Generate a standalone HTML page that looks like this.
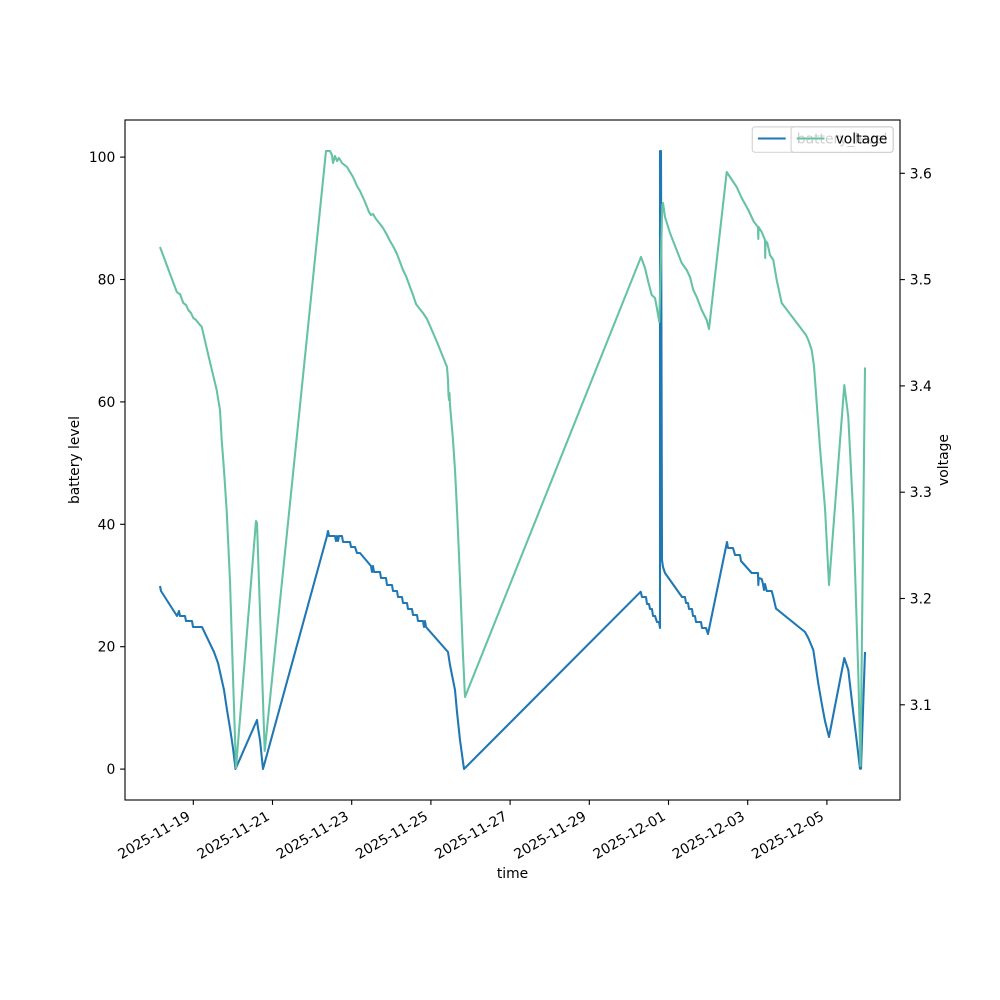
<!DOCTYPE html>
<html>
<head>
<meta charset="utf-8">
<style>
  html, body { margin: 0; padding: 0; background: #ffffff; }
  svg { display: block; }
  text { font-family: "DejaVu Sans", "Liberation Sans", sans-serif; font-size: 13.89px; fill: #000; }
</style>
</head>
<body>
<svg width="1000" height="1000" viewBox="0 0 1000 1000" xmlns="http://www.w3.org/2000/svg">
  <rect x="0" y="0" width="1000" height="1000" fill="#ffffff"/>

  <!-- battery level (blue) -->
  <path fill="none" stroke="#1f77b4" stroke-width="2.08" stroke-linejoin="round" stroke-linecap="butt"
    d="M160,586 L161,591 L177,616 L179,611 L180,616 L185,616 L186,621 L192,621 L193,627 L202,627 L214,652 L218,663 L220,672 L224,690 L227,710 L230,728 L233,748 L235.5,769 L257,720 L258,728 L260,740 L263,769
       L327,536 L328,531 L329,536 L335,536 L336,541 L337,536 L338,541 L339,536 L342,536 L343,542 L350,542 L351,547 L355,547 L357,553 L360,553 L371,566 L372,572 L373,566 L374,572
       L380,572 L381,578 L386,578 L387,585 L392,585 L393,591 L397,591 L398,597 L402,597 L403,603 L407,603 L408,609 L412,609 L413,615 L417,615 L418,621 L423,621 L424,627 L425,621 L426,627
       L448,652 L450,665 L455,690 L457,712 L460,740 L464,769
       L640.7,591.7 L642,597 L646,597 L647,604 L649,604 L650,609 L652,609 L653,616 L655,616 L657,622 L659,622 L660,628 L660,151 L661,151 L662,560 L663,567 L665,573
       L682,597 L685,597 L686,603 L688,603 L689,609 L692,609 L693,616 L695,616 L696,622 L701,622 L702,628 L706,628 L708,634
       L727,542 L728,548 L733,548 L735,555 L740,555 L741,561 L751.7,573 L758,573 L758.3,585 L758.8,578 L761.7,579 L763,584 L764,590 L765,584 L766.7,591 L771.7,591 L773.3,597 L776,608.6
       L805,632 L808.3,638 L813.3,650 L818.3,683.7 L822,705 L825,721 L829,737 L844.3,658 L848.3,670 L853.3,713 L856,735 L860,768.7 L861,768.7 L865,652"/>

  <!-- voltage (green) -->
  <path fill="none" stroke="#66c2a5" stroke-width="2.08" stroke-linejoin="round" stroke-linecap="butt"
    d="M160,247 L176.7,291.7 L178.3,293.3 L180,294 L183.3,303 L186,305 L188.3,310 L191,313 L193.3,318 L196,320 L200,325 L201.7,326.7 L209,358 L216.7,390 L218.3,400 L220,410 L221.7,440 L224,470 L226.7,511 L230,581 L233.3,686 L236,768
       L256,521 L257,523 L264.7,751
       L326,151 L330,151 L332,155 L333,163 L335,156 L337,161 L339,158 L342,163 L347,167 L350,172 L353,177 L357,186 L360,191 L365,202 L369,212 L371,215 L373,214 L376,219 L380,224 L383,228 L387,235 L390,241 L393,246 L397,254 L400,262 L403,270 L406,276 L410,287 L413,295 L416,304 L419,308 L423,313 L427,319 L437,342 L447,367 L448,380 L448.5,395 L449,400 L449.5,393 L450,405 L453,440 L455,470 L457,510 L459,555 L461,605 L463,655 L465,697
       L641,257 L645,268 L648.3,282 L651.7,295 L655,298 L656.7,307 L659.3,322 L662.3,205 L663,203 L665,217 L670,233 L681.7,263 L686.7,270 L690,277 L693.3,290 L696.7,297 L701.7,310 L706.7,320 L709,329
       L726.7,172 L730,177 L736.7,187 L741.7,198 L748.3,210 L754,222 L758,227 L758.3,239 L758.6,227 L761.7,232 L765,240 L765.2,258 L765.5,241 L767.3,243 L770,255 L773.3,260 L776.7,280 L781.7,303
       L806,335 L808.3,340 L811.7,350 L814,366 L820,448 L825,508 L829,585 L844.3,385 L848.3,417 L853.3,516 L858.3,674 L860.5,766 L865,367.5"/>

  <!-- axes frame -->
  <rect x="125" y="120" width="775" height="680" fill="none" stroke="#000" stroke-width="1.11"/>

  <!-- left ticks -->
  <g stroke="#000" stroke-width="1.11">
    <line x1="120.1" y1="769.1" x2="125" y2="769.1"/>
    <line x1="120.1" y1="646.7" x2="125" y2="646.7"/>
    <line x1="120.1" y1="524.3" x2="125" y2="524.3"/>
    <line x1="120.1" y1="401.9" x2="125" y2="401.9"/>
    <line x1="120.1" y1="279.5" x2="125" y2="279.5"/>
    <line x1="120.1" y1="157.1" x2="125" y2="157.1"/>
  </g>
  <g text-anchor="end">
    <text x="115.3" y="774.1">0</text>
    <text x="115.3" y="651.7">20</text>
    <text x="115.3" y="529.3">40</text>
    <text x="115.3" y="406.9">60</text>
    <text x="115.3" y="284.5">80</text>
    <text x="115.3" y="162.1">100</text>
  </g>

  <!-- right ticks -->
  <g stroke="#000" stroke-width="1.11">
    <line x1="900" y1="173.3" x2="904.9" y2="173.3"/>
    <line x1="900" y1="279.6" x2="904.9" y2="279.6"/>
    <line x1="900" y1="385.9" x2="904.9" y2="385.9"/>
    <line x1="900" y1="492.2" x2="904.9" y2="492.2"/>
    <line x1="900" y1="598.5" x2="904.9" y2="598.5"/>
    <line x1="900" y1="704.8" x2="904.9" y2="704.8"/>
  </g>
  <g text-anchor="start">
    <text x="909.8" y="178.3">3.6</text>
    <text x="909.8" y="284.6">3.5</text>
    <text x="909.8" y="390.9">3.4</text>
    <text x="909.8" y="497.2">3.3</text>
    <text x="909.8" y="603.5">3.2</text>
    <text x="909.8" y="709.8">3.1</text>
  </g>

  <!-- bottom ticks -->
  <g stroke="#000" stroke-width="1.11">
    <line x1="193.3" y1="800" x2="193.3" y2="804.9"/>
    <line x1="272.5" y1="800" x2="272.5" y2="804.9"/>
    <line x1="351.7" y1="800" x2="351.7" y2="804.9"/>
    <line x1="430.9" y1="800" x2="430.9" y2="804.9"/>
    <line x1="510.1" y1="800" x2="510.1" y2="804.9"/>
    <line x1="589.3" y1="800" x2="589.3" y2="804.9"/>
    <line x1="668.5" y1="800" x2="668.5" y2="804.9"/>
    <line x1="747.7" y1="800" x2="747.7" y2="804.9"/>
    <line x1="826.9" y1="800" x2="826.9" y2="804.9"/>
  </g>
  <g text-anchor="end">
    <text transform="translate(191.3,819) rotate(-30)">2025-11-19</text>
    <text transform="translate(270.5,819) rotate(-30)">2025-11-21</text>
    <text transform="translate(349.7,819) rotate(-30)">2025-11-23</text>
    <text transform="translate(428.9,819) rotate(-30)">2025-11-25</text>
    <text transform="translate(508.1,819) rotate(-30)">2025-11-27</text>
    <text transform="translate(587.3,819) rotate(-30)">2025-11-29</text>
    <text transform="translate(666.5,819) rotate(-30)">2025-12-01</text>
    <text transform="translate(745.7,819) rotate(-30)">2025-12-03</text>
    <text transform="translate(824.9,819) rotate(-30)">2025-12-05</text>
  </g>

  <!-- axis labels -->
  <text x="512.5" y="878" text-anchor="middle">time</text>
  <text transform="translate(79,460) rotate(-90)" text-anchor="middle">battery level</text>
  <text transform="translate(948,460) rotate(-90)" text-anchor="middle">voltage</text>

  <!-- legend 1 (battery_level) -->
  <rect x="752.3" y="126.9" width="140.8" height="25.4" rx="2.8" ry="2.8" fill="#ffffff" fill-opacity="0.8" stroke="#cccccc" stroke-opacity="0.8" stroke-width="1.2"/>
  <line x1="757.9" y1="138.5" x2="785.7" y2="138.5" stroke="#1f77b4" stroke-width="2.08"/>
  <text x="796.8" y="143.5">battery_level</text>

  <!-- legend 2 (voltage) -->
  <rect x="791.1" y="126.9" width="102" height="25.4" rx="2.8" ry="2.8" fill="#ffffff" fill-opacity="0.8" stroke="#cccccc" stroke-opacity="0.8" stroke-width="1.2"/>
  <line x1="796.7" y1="138.5" x2="824.5" y2="138.5" stroke="#66c2a5" stroke-width="2.08"/>
  <text x="835.6" y="143.5">voltage</text>
</svg>
</body>
</html>
